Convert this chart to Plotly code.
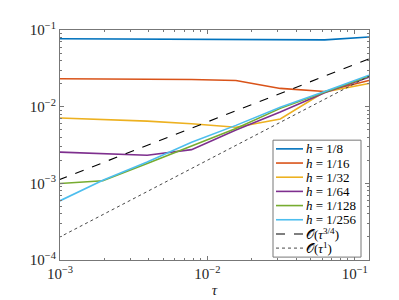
import numpy as np
import plotly.graph_objects as go

tau = [1/1024, 1/512, 1/256, 1/128, 1/64, 1/32, 1/16, 1/8]

err_h8   = [0.0770, 0.0765, 0.0760, 0.0757, 0.0752, 0.0748, 0.0743, 0.0812]
err_h16  = [0.0231, 0.0229, 0.0228, 0.0226, 0.0219, 0.0173, 0.0158, 0.0220]
err_h32  = [0.00712, 0.00680, 0.00648, 0.00600, 0.00540, 0.00690, 0.0156, 0.0201]
err_h64  = [0.00256, 0.00246, 0.00232, 0.00275, 0.00496, 0.00850, 0.0152, 0.0242]
err_h128 = [0.00099, 0.00108, 0.00182, 0.00305, 0.00520, 0.00950, 0.0155, 0.0250]
err_h256 = [0.00058, 0.00110, 0.00190, 0.00344, 0.00570, 0.00985, 0.0158, 0.0257]

labels = ["<i>h</i> = 1/8", "<i>h</i> = 1/16", "<i>h</i> = 1/32",
          "<i>h</i> = 1/64", "<i>h</i> = 1/128", "<i>h</i> = 1/256"]
colors = ["#0072BD", "#D95319", "#EDB120", "#7E2F8E", "#77AC30", "#4DBEEE"]

ref_coef = 0.2
ref_orders = [0.75, 1.0]
ref_labels = ["𝒪(<i>τ</i><sup>3/4</sup>)", "𝒪(<i>τ</i><sup>1</sup>)"]

x_ticks = [1e-3, 1e-2, 1e-1]
x_ticktext = ["10<sup>−3</sup>", "10<sup>−2</sup>", "10<sup>−1</sup>"]
y_ticks = [1e-4, 1e-3, 1e-2, 1e-1]
y_ticktext = ["10<sup>−4</sup>", "10<sup>−3</sup>", "10<sup>−2</sup>", "10<sup>−1</sup>"]

FONT = "Liberation Serif"
AX = "#777777"

fig = go.Figure()
entries = []
for ys, lab, c in zip([err_h8, err_h16, err_h32, err_h64, err_h128, err_h256], labels, colors):
    fig.add_trace(go.Scatter(x=tau, y=ys, mode="lines", name=lab, showlegend=False,
                             line=dict(color=c, width=1.6)))
    entries.append((lab, dict(color=c, width=1.6)))

t = np.array(tau)
dash_line = dict(color="black", width=1.1, dash="dash")
dot_line = dict(color="#333333", width=0.9, dash="dot")
fig.add_trace(go.Scatter(x=tau, y=list(ref_coef * t ** ref_orders[0]), mode="lines",
                         name=ref_labels[0], showlegend=False, line=dash_line))
fig.add_trace(go.Scatter(x=tau, y=list(ref_coef * t ** ref_orders[1]), mode="lines",
                         name=ref_labels[1], showlegend=False, line=dot_line))
entries.append((ref_labels[0], dash_line))
entries.append((ref_labels[1], dot_line))

minor_x = [m * 10.0 ** e for e in (-3, -2) for m in range(2, 10)] + [0.2]
minor_y = [m * 10.0 ** e for e in (-4, -3, -2) for m in range(2, 10)]

axis_common = dict(type="log", showgrid=False, zeroline=False, showline=True,
                   linecolor=AX, linewidth=1, mirror="ticks",
                   ticks="inside", ticklen=4, tickcolor=AX,
                   tickfont=dict(family=FONT, size=15, color="#262626"))

fig.update_xaxes(range=[-3, np.log10(0.125)], tickvals=x_ticks, ticktext=x_ticktext,
                 minor=dict(tickvals=minor_x, ticks="inside", ticklen=2, tickcolor=AX),
                 title=dict(text="<i>τ</i>", font=dict(family=FONT, size=15, color="#262626"),
                            standoff=3),
                 **axis_common)
fig.update_yaxes(range=[-4, -1], tickvals=y_ticks, ticktext=y_ticktext,
                 minor=dict(tickvals=minor_y, ticks="inside", ticklen=2, tickcolor=AX),
                 **axis_common)

# manual legend (pixel layout -> paper coords)
L, T, W, H = 52, 22, 309, 238
def px(x):
    return (x - L) / W
def py(y):
    return (T + H - y) / H

shapes = [dict(type="rect", xref="paper", yref="paper",
               x0=px(265), x1=px(353), y0=py(257), y1=py(136),
               line=dict(color=AX, width=1), fillcolor="white", layer="above")]
annotations = []
for i, (lab, ln) in enumerate(entries):
    yc = 145 + 14.67 * i
    shapes.append(dict(type="line", xref="paper", yref="paper",
                       x0=px(268), x1=px(295), y0=py(yc), y1=py(yc),
                       line=ln, layer="above"))
    annotations.append(dict(xref="paper", yref="paper", x=px(295.5), y=py(yc),
                            xanchor="left", yanchor="middle", showarrow=False,
                            text=lab, font=dict(family=FONT, size=13, color="black")))

fig.update_layout(
    width=399, height=300,
    margin=dict(l=L, r=399 - L - W, t=T, b=300 - T - H),
    paper_bgcolor="white", plot_bgcolor="white",
    font=dict(family=FONT, color="#262626"),
    showlegend=False,
    shapes=shapes, annotations=annotations,
)

fig.write_html("out.html")
